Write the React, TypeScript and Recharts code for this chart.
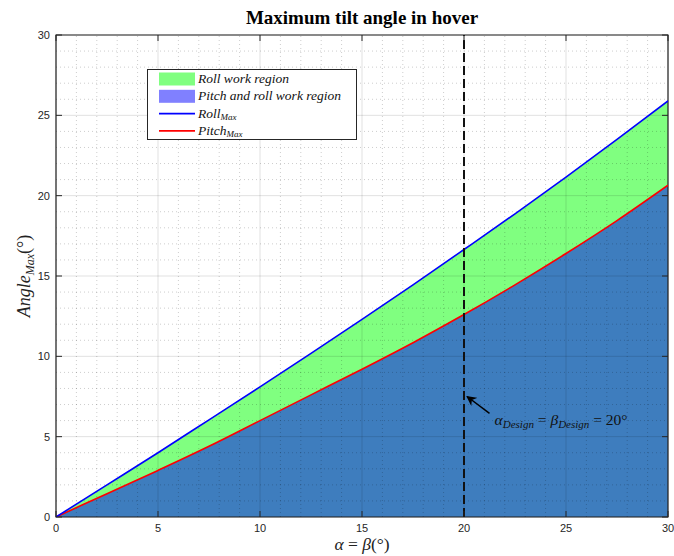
import React from "react";
import {
  ComposedChart,
  Area,
  Line,
  XAxis,
  YAxis,
  ReferenceLine,
  ReferenceArea,
  ReferenceDot,
} from "recharts";

// ---- data ----
const alpha = [0, 2.5, 5, 7.5, 10, 12.5, 15, 17.5, 20, 22.5, 25, 27.5, 30];
const rollMax = [0, 2.0, 4.0, 6.05, 8.1, 10.18, 12.3, 14.45, 16.65, 18.87, 21.15, 23.5, 25.9];
const pitchMax = [0, 1.45, 2.9, 4.4, 6.0, 7.6, 9.2, 10.85, 12.6, 14.45, 16.4, 18.45, 20.65];

const xTicks = [0, 5, 10, 15, 20, 25, 30];
const yTicks = [0, 5, 10, 15, 20, 25, 30];
const minorX = Array.from({ length: 31 }, (_, i) => i).filter((v) => v % 5 !== 0);
const minorY = Array.from({ length: 31 }, (_, i) => i).filter((v) => v % 5 !== 0);

const designAngle = 20;
const annotationArrow = { from: { x: 21.25, y: 6.45 }, to: { x: 20.15, y: 7.5 } };
const annotationText = { x: 21.5, y: 5.95 };

const data = alpha.map((a, i) => ({ a, roll: rollMax[i], pitch: pitchMax[i] }));

// ---- layout ----
const W = 674;
const H = 556;
const M = { top: 35, right: 6, left: 0, bottom: 0 };
const YW = 56;
const XH = 39;
const PLOT_W = W - M.left - M.right - YW;
const PLOT_H = H - M.top - M.bottom - XH;
const X_MAX = 30;
const Y_MAX = 30;
const TICK_PX = 6;
const tickDx = (TICK_PX / PLOT_W) * X_MAX;
const tickDy = (TICK_PX / PLOT_H) * Y_MAX;

const AX = "#262626";
const serif = "'Liberation Serif', 'DejaVu Serif', serif";
const sans = "'Liberation Sans', Arial, sans-serif";

const AnnotationShape = (p: any) => (
  <text x={p.cx} y={p.cy} fontFamily={serif} fontSize={15.5} fill="#111" dominantBaseline="middle">
    <tspan fontStyle="italic">α</tspan>
    <tspan fontStyle="italic" fontSize={11} dy={3.5}>Design</tspan>
    <tspan dy={-3.5}> = </tspan>
    <tspan fontStyle="italic">β</tspan>
    <tspan fontStyle="italic" fontSize={11} dy={3.5}>Design</tspan>
    <tspan dy={-3.5}> = 20°</tspan>
  </text>
);

const legendItems = [
  { kind: "patch", color: "#80FF80", label: <tspan>Roll work region</tspan> },
  { kind: "patch", color: "#8080FF", label: <tspan>Pitch and roll work region</tspan> },
  {
    kind: "line",
    color: "#0000FF",
    label: (
      <>
        <tspan>Roll</tspan>
        <tspan fontSize={9} dy={2.5}>Max</tspan>
      </>
    ),
  },
  {
    kind: "line",
    color: "#FF0000",
    label: (
      <>
        <tspan>Pitch</tspan>
        <tspan fontSize={9} dy={2.5}>Max</tspan>
      </>
    ),
  },
];

export default function App() {
  return (
    <div style={{ position: "absolute", left: 0, top: 0, width: W, height: H, background: "#fff" }}>
      <svg width={0} height={0} style={{ position: "absolute" }}>
        <defs>
          <marker id="arrowHead" viewBox="0 0 10 10" refX="9" refY="5" markerWidth="10" markerHeight="10" markerUnits="userSpaceOnUse" orient="auto">
            <path d="M0,0 L10,5 L0,10 L3,5 z" fill="#000" />
          </marker>
        </defs>
      </svg>
      <ComposedChart width={W} height={H} data={data} margin={M}>
        <XAxis
          dataKey="a"
          type="number"
          domain={[0, X_MAX]}
          ticks={xTicks}
          height={XH}
          tickLine={false}
          axisLine={false}
          tickSize={0}
          tickMargin={7}
          tick={{ fontSize: 11, fill: AX, fontFamily: sans }}
          allowDataOverflow
        />
        <YAxis
          type="number"
          domain={[0, Y_MAX]}
          ticks={yTicks}
          width={YW}
          tickLine={false}
          axisLine={false}
          tickSize={0}
          tickMargin={6}
          tick={{ fontSize: 11, fill: AX, fontFamily: sans }}
          allowDataOverflow
        />
        <Area type="monotone" dataKey="roll" stroke="none" fill="#80FF80" fillOpacity={1} baseValue={0} isAnimationActive={false} />
        <Area type="monotone" dataKey="pitch" stroke="none" fill="#3E7DBE" fillOpacity={1} baseValue={0} isAnimationActive={false} />

        {minorX.map((v) => (
          <ReferenceLine key={"mx" + v} x={v} stroke="#000" strokeOpacity={0.2} strokeDasharray="1 3" strokeWidth={1} />
        ))}
        {minorY.map((v) => (
          <ReferenceLine key={"my" + v} y={v} stroke="#000" strokeOpacity={0.2} strokeDasharray="1 3" strokeWidth={1} />
        ))}
        {xTicks.map((v) => (
          <ReferenceLine key={"gx" + v} x={v} stroke="#000" strokeOpacity={0.12} strokeWidth={1} />
        ))}
        {yTicks.map((v) => (
          <ReferenceLine key={"gy" + v} y={v} stroke="#000" strokeOpacity={0.12} strokeWidth={1} />
        ))}

        <Line type="monotone" dataKey="pitch" stroke="#FF0000" strokeWidth={1.6} dot={false} isAnimationActive={false} />
        <Line type="monotone" dataKey="roll" stroke="#0000FF" strokeWidth={1.6} dot={false} isAnimationActive={false} />

        <ReferenceLine x={designAngle} stroke="#111" strokeWidth={2} strokeDasharray="9 4" />

        <ReferenceLine
          segment={[annotationArrow.from, annotationArrow.to]}
          stroke="#000"
          strokeWidth={1.5}
          markerEnd="url(#arrowHead)"
        />
        <ReferenceDot x={annotationText.x} y={annotationText.y} r={0} shape={AnnotationShape} />

        {xTicks.map((v) => (
          <ReferenceLine key={"tb" + v} segment={[{ x: v, y: 0 }, { x: v, y: tickDy }]} stroke={AX} strokeWidth={1} />
        ))}
        {xTicks.map((v) => (
          <ReferenceLine key={"tt" + v} segment={[{ x: v, y: Y_MAX }, { x: v, y: Y_MAX - tickDy }]} stroke={AX} strokeWidth={1} />
        ))}
        {yTicks.map((v) => (
          <ReferenceLine key={"tl" + v} segment={[{ x: 0, y: v }, { x: tickDx, y: v }]} stroke={AX} strokeWidth={1} />
        ))}
        {yTicks.map((v) => (
          <ReferenceLine key={"tr" + v} segment={[{ x: X_MAX, y: v }, { x: X_MAX - tickDx, y: v }]} stroke={AX} strokeWidth={1} />
        ))}
        <ReferenceArea x1={0} x2={X_MAX} y1={0} y2={Y_MAX} fill="none" stroke={AX} strokeWidth={1.2} ifOverflow="visible" />
      </ComposedChart>

      <svg width={W} height={H} style={{ position: "absolute", left: 0, top: 0, pointerEvents: "none" }}>
        <text x={362} y={24} textAnchor="middle" fontFamily={serif} fontWeight="bold" fontSize={19} fill="#000">
          Maximum tilt angle in hover
        </text>
        <text x={362} y={550} textAnchor="middle" fontFamily={serif} fontSize={17.5} fill="#222">
          <tspan fontStyle="italic">α</tspan>
          <tspan> = </tspan>
          <tspan fontStyle="italic">β</tspan>
          <tspan>(°)</tspan>
        </text>
        <text x={0} y={0} transform="translate(30,276) rotate(-90)" textAnchor="middle" fontFamily={serif} fontSize={18} fill="#222">
          <tspan fontStyle="italic">Angle</tspan>
          <tspan fontStyle="italic" fontSize={12} dy={4}>Max</tspan>
          <tspan dy={-4}>(°)</tspan>
        </text>

        <rect x={147.5} y={69.5} width={209} height={70} fill="#fff" stroke={AX} strokeWidth={1} />
        {legendItems.map((it, i) => {
          const cy = 79 + i * 17.3;
          return (
            <g key={i}>
              {it.kind === "patch" ? (
                <rect x={159} y={cy - 6.5} width={36} height={13} fill={it.color} />
              ) : (
                <line x1={159} x2={195} y1={cy} y2={cy} stroke={it.color} strokeWidth={1.6} />
              )}
              <text x={198} y={cy + 4} fontFamily={serif} fontStyle="italic" fontSize={13.5} fill="#111">
                {it.label}
              </text>
            </g>
          );
        })}
      </svg>
    </div>
  );
}
